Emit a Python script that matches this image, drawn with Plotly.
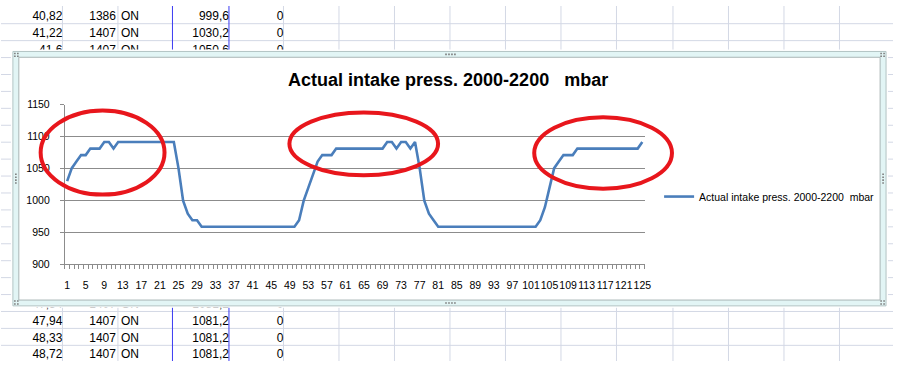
import plotly.graph_objects as go

# ---------------- chart data ----------------
categories = list(range(1, 126))
pressure = [
    1030.2, 1050.6, 1060.8, 1071.0, 1071.0, 1081.2, 1081.2, 1081.2, 1091.4, 1091.4,
    1081.2, 1091.4, 1091.4, 1091.4, 1091.4, 1091.4, 1091.4, 1091.4, 1091.4, 1091.4,
    1091.4, 1091.4, 1091.4, 1091.4, 1050.6, 999.6, 979.2, 969.0, 969.0, 958.8,
    958.8, 958.8, 958.8, 958.8, 958.8, 958.8, 958.8, 958.8, 958.8, 958.8,
    958.8, 958.8, 958.8, 958.8, 958.8, 958.8, 958.8, 958.8, 958.8, 958.8,
    969.0, 999.6, 1020.0, 1040.4, 1060.8, 1071.0, 1071.0, 1071.0, 1081.2, 1081.2,
    1081.2, 1081.2, 1081.2, 1081.2, 1081.2, 1081.2, 1081.2, 1081.2, 1081.2, 1091.4,
    1091.4, 1081.2, 1091.4, 1091.4, 1081.2, 1091.4, 1050.6, 999.6, 979.2, 969.0,
    958.8, 958.8, 958.8, 958.8, 958.8, 958.8, 958.8, 958.8, 958.8, 958.8,
    958.8, 958.8, 958.8, 958.8, 958.8, 958.8, 958.8, 958.8, 958.8, 958.8,
    958.8, 958.8, 969.0, 989.4, 1020.0, 1050.6, 1060.8, 1071.0, 1071.0, 1071.0,
    1081.2, 1081.2, 1081.2, 1081.2, 1081.2, 1081.2, 1081.2, 1081.2, 1081.2, 1081.2,
    1081.2, 1081.2, 1081.2, 1081.2, 1091.4,
]
x_tick_values = [1, 5, 9, 13, 17, 21, 25, 29, 33, 37, 41, 45, 49, 53, 57, 61,
                 65, 69, 73, 77, 81, 85, 89, 93, 97, 101, 105, 109, 113, 117, 121, 125]
x_tick_labels = [str(v) for v in x_tick_values]
y_tick_values = [900, 950, 1000, 1050, 1100, 1150]

series_name = "Actual intake press. 2000-2200\u00a0\u00a0mbar"
chart_title = "Actual intake press. 2000-2200\u00a0\u00a0\u00a0mbar"

# ---------------- spreadsheet cells around the chart ----------------
sheet_rows = [0, 1, 2, 17, 18, 19, 20]
sheet_time = ["40,82", "41,22", "41,6", "47,54", "47,94", "48,33", "48,72"]
sheet_rpm = ["1386", "1407", "1407", "1407", "1407", "1407", "1407"]
sheet_state = ["ON", "ON", "ON", "ON", "ON", "ON", "ON"]
sheet_pressure = ["999,6", "1030,2", "1050,6", "1081,2", "1081,2", "1081,2", "1081,2"]
sheet_flag = ["0", "0", "0", "0", "0", "0", "0"]

# ---------------- layout geometry ----------------
W, H = 900, 367
FONT = "Liberation Sans"
ROW_TOP, ROW_H = 18.3, 17.5
col_lines = [62, 118, 173, 230, 285, 341, 397, 453, 509, 565, 621, 678, 734, 790, 846]
blue_cols = [173, 230]
GRID_SHEET = "#D3D8E5"
AXIS_GRAY = "#8C8C8C"


def px(x):
    return x / W


def py(y):
    return 1 - y / H


fig = go.Figure()

# spreadsheet text (subplot xy in pixel coordinates)
row_y = [ROW_TOP + ROW_H * r - 7 for r in sheet_rows]
for col_x, vals, pos in [
    (62, sheet_time, "middle left"),
    (116, sheet_rpm, "middle left"),
    (121, sheet_state, "middle right"),
    (230, sheet_pressure, "middle left"),
    (285, sheet_flag, "middle left"),
]:
    fig.add_trace(go.Scatter(
        x=[col_x] * len(vals), y=row_y, text=vals, mode="text",
        textposition=pos, textfont=dict(family=FONT, size=12, color="#000000"),
        xaxis="x", yaxis="y", showlegend=False, hoverinfo="skip"))

# empty trace to create the chart-frame subplot
fig.add_trace(go.Scatter(x=[], y=[], xaxis="x2", yaxis="y2", showlegend=False, hoverinfo="skip"))

# the chart line
fig.add_trace(go.Scatter(
    x=categories, y=pressure, mode="lines", name=series_name,
    line=dict(color="#4A7EBB", width=2.6),
    xaxis="x3", yaxis="y3", hoverinfo="skip"))

shapes = []
# spreadsheet gridlines
for n in range(0, 21):
    yy = ROW_TOP + ROW_H * n
    shapes.append(dict(type="line", xref="x", yref="y", x0=0, x1=W, y0=yy, y1=yy,
                       line=dict(color=GRID_SHEET, width=1), layer="below"))
for cx in col_lines:
    color = "#3B3BF2" if cx in blue_cols else GRID_SHEET
    shapes.append(dict(type="line", xref="x", yref="y", x0=cx, x1=cx, y0=0, y1=H,
                       line=dict(color=color, width=1), layer="below"))

# chart frame (drawn in subplot x2y2, above the sheet text)
shapes.append(dict(type="rect", xref="x2", yref="y2", x0=12, y0=47, x1=893, y1=310,
                   fillcolor="#E2F5F5", line=dict(color="#B2C4C4", width=1), layer="below"))
shapes.append(dict(type="rect", xref="x2", yref="y2", x0=18, y0=53, x1=887, y1=304,
                   fillcolor="#FFFFFF", line=dict(color="#A9B5B5", width=1), layer="below"))

# frame handles (small dots)
handle_dots = []
for hx in (449, 452, 455, 458):
    handle_dots.append((hx, 50))
    handle_dots.append((hx, 307))
for hy in (174, 177, 180, 183):
    handle_dots.append((15, hy))
    handle_dots.append((890, hy))
for cx0, cy0 in ((14, 49), (888, 49), (14, 305), (888, 305)):
    for ddx in (0, 3):
        for ddy in (0, 3):
            handle_dots.append((cx0 + ddx, cy0 + ddy))
for hx, hy in handle_dots:
    shapes.append(dict(type="rect", xref="x2", yref="y2", x0=hx - 0.8, x1=hx + 0.8,
                       y0=hy - 0.8, y1=hy + 0.8, fillcolor="#7A7A7A",
                       line=dict(width=0), layer="below"))

# red hand-drawn ellipses
for x0, y0, x1, y1 in ((40, 108, 165, 195), (291, 110, 441, 175), (538, 115, 677, 189)):
    shapes.append(dict(type="circle", xref="x", yref="y", x0=x0, y0=y0, x1=x1, y1=y1,
                       line=dict(color="#E8161C", width=4), layer="above"))

fig.update_layout(
    width=W, height=H,
    margin=dict(l=0, r=0, t=0, b=0),
    paper_bgcolor="#FFFFFF", plot_bgcolor="#FFFFFF",
    font=dict(family=FONT, size=10.5, color="#000000"),
    shapes=shapes,
    showlegend=True,
    legend=dict(x=px(664), y=py(197), xanchor="left", yanchor="middle",
                bgcolor="rgba(0,0,0,0)", font=dict(family=FONT, size=10.5, color="#000000")),
    annotations=[dict(x=451.5, y=77, xref="x", yref="y", text=chart_title, showarrow=False,
                      xanchor="center", yanchor="middle",
                      font=dict(family=FONT, size=18, color="#000000", weight="bold"))],
    xaxis=dict(domain=[0, 1], range=[0, W], visible=False, fixedrange=True),
    yaxis=dict(domain=[0, 1], range=[H, 0], visible=False, fixedrange=True),
    xaxis2=dict(domain=[px(10), px(895)], range=[10, 895], anchor="y2", visible=False),
    yaxis2=dict(domain=[py(312), py(45)], range=[312, 45], anchor="x2", visible=False),
    xaxis3=dict(
        domain=[px(64.4), px(649.4)], range=[0.5, 125.5], anchor="y3",
        tickmode="array", tickvals=x_tick_values, ticktext=x_tick_labels, tickangle=0,
        ticks="outside", ticklen=4, tickcolor="rgba(0,0,0,0)",
        minor=dict(ticks="outside", ticklen=4, tickcolor=AXIS_GRAY, tick0=0.5, dtick=1,
                   showgrid=False),
        showline=True, linecolor=AXIS_GRAY, linewidth=1, showgrid=False, zeroline=False,
        tickfont=dict(family=FONT, size=10.5, color="#000000"), ticklabelstandoff=7,
    ),
    yaxis3=dict(
        domain=[py(267), py(102)], range=[900, 1150], anchor="x3",
        tickmode="array", tickvals=y_tick_values,
        ticks="outside", ticklen=4, tickcolor=AXIS_GRAY,
        showline=True, linecolor=AXIS_GRAY, linewidth=1,
        showgrid=True, gridcolor=AXIS_GRAY, gridwidth=1, zeroline=False,
        tickfont=dict(family=FONT, size=10.5, color="#000000"), ticklabelstandoff=8,
    ),
)

fig.write_html("out.html")
